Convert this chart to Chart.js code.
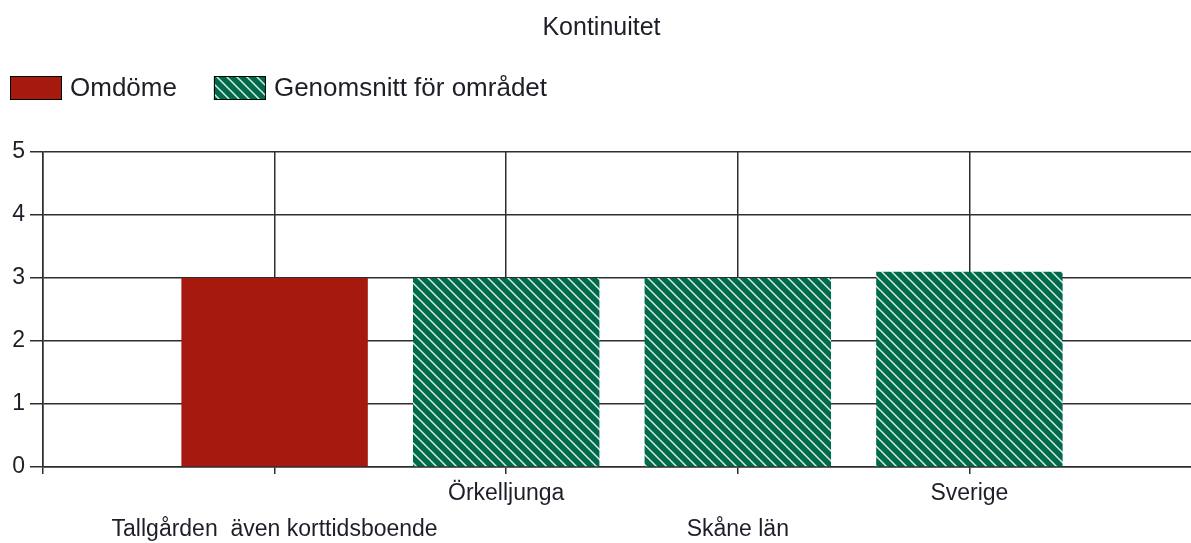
<!DOCTYPE html>
<html>
<head>
<meta charset="utf-8">
<title>Kontinuitet</title>
<script src="https://cdn.jsdelivr.net/npm/chart.js@4.4.1/dist/chart.umd.min.js"></script>
<style>
    html, body { margin: 0; padding: 0; background: #ffffff; overflow: hidden; }
    #wrap { position: relative; width: 1203px; height: 543px; }
</style>
</head>
<body>
<div id="wrap"><canvas id="chart"></canvas></div>
<script>
/* Kontinuitet - bar chart */

const CHART_TITLE = "Kontinuitet";
const categories = ["Tallgården  även korttidsboende", "Örkelljunga", "Skåne län", "Sverige"];
const seriesLabels = ["Omdöme", "Genomsnitt för området"];
const omdomeValues = [3, null, null, null];
const snittValues = [null, 3, 3, 3.1];
const yTicks = [0, 1, 2, 3, 4, 5];

const RED = "#a5190f";
const GREEN = "#006b4b";
const INK = "#1e1e28";
const GRID = "#2e2e2e";
const FONT = "'Liberation Sans', Arial, sans-serif";

const canvas = document.getElementById("chart");
const ctx = canvas.getContext("2d");

function makeHatch(base) {
    const size = 10;
    const tile = document.createElement("canvas");
    tile.width = size;
    tile.height = size;
    const c = tile.getContext("2d");
    c.fillStyle = base;
    c.fillRect(0, 0, size, size);
    c.strokeStyle = "rgba(255, 255, 255, 0.85)";
    c.lineWidth = 1.5;
    c.beginPath();
    c.moveTo(-2, -2);
    c.lineTo(size + 2, size + 2);
    c.moveTo(-2, size - 2);
    c.lineTo(2, size + 2);
    c.moveTo(size - 2, -2);
    c.lineTo(size + 2, 2);
    c.stroke();
    return ctx.createPattern(tile, "repeat");
}

function toPoints(values) {
    return categories.map((name, i) => ({ x: i + 1, y: values[i] }));
}

// legend drawn by hand: boxes at the top left like the original
const boxLegend = {
    id: "boxLegend",
    afterDraw(chart) {
        const c = chart.ctx;
        const top = 76;
        const w = 52;
        const h = 24;
        let x = 10;
        c.save();
        c.font = "26px " + FONT;
        c.textBaseline = "middle";
        chart.data.datasets.forEach((ds) => {
            c.fillStyle = ds.backgroundColor;
            c.fillRect(x, top, w, h);
            c.strokeStyle = "#000000";
            c.lineWidth = 1;
            c.strokeRect(x + 0.5, top + 0.5, w - 1, h - 1);
            c.fillStyle = INK;
            c.fillText(ds.label, x + w + 8, top + h / 2 + 1);
            x += w + 8 + c.measureText(ds.label).width + 37;
        });
        c.restore();
    }
};

Chart.defaults.font.family = FONT;
Chart.defaults.color = INK;

new Chart(canvas, {
    type: "bar",
    data: {
        datasets: [
            {
                label: seriesLabels[0],
                data: toPoints(omdomeValues),
                backgroundColor: RED,
                borderWidth: 0,
                grouped: false,
                barPercentage: 0.805,
                categoryPercentage: 1
            },
            {
                label: seriesLabels[1],
                data: toPoints(snittValues),
                backgroundColor: makeHatch(GREEN),
                borderWidth: 0,
                grouped: false,
                barPercentage: 0.805,
                categoryPercentage: 1
            }
        ]
    },
    options: {
        responsive: true,
        maintainAspectRatio: false,
        animation: false,
        layout: { padding: 0 },
        plugins: {
            legend: { display: false },
            tooltip: { enabled: false },
            title: {
                display: true,
                text: CHART_TITLE,
                color: INK,
                font: { size: 25, weight: "normal" },
                padding: { top: 13, bottom: 109 }
            }
        },
        scales: {
            x: {
                type: "linear",
                min: 0,
                max: 5,
                offset: false,
                grid: { offset: false, color: GRID, lineWidth: 1.5, tickLength: 7 },
                border: { color: GRID, width: 1.5 },
                ticks: {
                    stepSize: 1,
                    autoSkip: false,
                    maxRotation: 0,
                    minRotation: 0,
                    padding: 2,
                    color: INK,
                    font: { size: 23, lineHeight: 36 / 23 },
                    callback: (value) => {
                        const i = value - 1;
                        if (i < 0 || i >= categories.length) return "";
                        return i % 2 === 0 ? ["", categories[i]] : categories[i];
                    }
                },
                afterFit: (scale) => { scale.height = 76; }
            },
            y: {
                min: 0,
                max: 5,
                grid: { color: GRID, lineWidth: 1.5, tickLength: 13 },
                border: { color: GRID, width: 1.5 },
                ticks: {
                    padding: 5,
                    color: INK,
                    font: { size: 23 }
                },
                afterBuildTicks: (scale) => {
                    scale.ticks = yTicks.map((v) => ({ value: v }));
                },
                afterFit: (scale) => { scale.width = 43; }
            }
        }
    },
    plugins: [boxLegend]
});
</script>
</body>
</html>
